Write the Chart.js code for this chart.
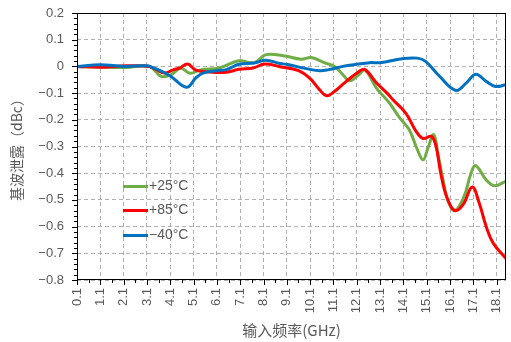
<!DOCTYPE html>
<html>
<head>
<meta charset="utf-8">
<script src="https://cdn.jsdelivr.net/npm/chart.js@4.4.0/dist/chart.umd.min.js"></script>
<style>
  html, body { margin: 0; padding: 0; background: #fff; }
  #wrap { width: 511px; height: 342px; }
</style>
</head>
<body>
<div id="wrap"><canvas id="myChart" width="511" height="342"></canvas></div>
<script>
// tick labels
const xTicks = [0.1, 1.1, 2.1, 3.1, 4.1, 5.1, 6.1, 7.1, 8.1, 9.1, 10.1, 11.1, 12.1, 13.1, 14.1, 15.1, 16.1, 17.1, 18.1];
const yTicks = [0.2, 0.1, 0, -0.1, -0.2, -0.3, -0.4, -0.5, -0.6, -0.7, -0.8];

// +25°C
const freq25 = [0.1, 1.2, 2.2, 3.2, 3.7, 4.1, 4.55, 4.95, 5.4, 6.2, 7.05, 7.7, 8.2, 9.0, 9.7, 10.15, 10.7, 11.15, 11.5, 11.8, 12.2, 12.45, 12.95, 13.5, 13.95, 14.35, 14.7, 14.95, 15.15, 15.4, 15.6, 15.8, 16.0, 16.3, 16.7, 17.0, 17.2, 17.65, 18.0, 18.5];
const val25 = [0, -0.003, -0.004, 0, -0.037, -0.033, -0.007, -0.026, -0.013, -0.006, 0.021, 0.014, 0.044, 0.039, 0.027, 0.033, 0.014, 0.0, -0.031, -0.054, -0.03, -0.013, -0.082, -0.137, -0.194, -0.237, -0.312, -0.35, -0.306, -0.256, -0.337, -0.425, -0.5, -0.54, -0.487, -0.40, -0.372, -0.425, -0.447, -0.43];

// +85°C
const freq85 = [0.1, 1.2, 2.2, 3.2, 3.5, 3.85, 4.25, 4.5, 4.85, 5.2, 5.8, 6.5, 7.05, 7.65, 8.15, 8.8, 9.6, 10.1, 10.5, 10.8, 11.1, 11.65, 12.2, 12.45, 12.95, 13.4, 13.65, 14.2, 14.65, 14.95, 15.3, 15.5, 15.7, 15.95, 16.3, 16.65, 17.05, 17.35, 17.65, 17.95, 18.5];
const val85 = [0, -0.003, 0.002, 0, -0.012, -0.025, -0.012, -0.006, 0.009, -0.014, -0.021, -0.022, -0.011, -0.006, 0.009, -0.001, -0.016, -0.046, -0.087, -0.11, -0.097, -0.056, -0.019, -0.012, -0.062, -0.1, -0.125, -0.175, -0.244, -0.27, -0.262, -0.30, -0.40, -0.487, -0.54, -0.519, -0.452, -0.512, -0.60, -0.662, -0.72];

// −40°C
const freq40 = [0.1, 1.1, 2.1, 3.1, 3.35, 3.6, 4.1, 4.8, 5.2, 5.5, 6.1, 6.5, 7.05, 7.7, 8.2, 8.8, 9.2, 9.8, 10.5, 10.9, 11.5, 12.1, 12.65, 13.1, 14.05, 14.7, 15.05, 15.65, 16.35, 16.8, 17.2, 17.65, 18.05, 18.5];
const val40 = [0, 0.006, 0, 0.002, -0.005, -0.013, -0.036, -0.078, -0.043, -0.025, -0.016, -0.012, 0.008, 0.013, 0.023, 0.011, 0.006, -0.006, -0.016, -0.012, 0, 0.008, 0.014, 0.014, 0.029, 0.031, 0.019, -0.037, -0.09, -0.062, -0.029, -0.056, -0.075, -0.069];

const seriesNames = ["+25°C", "+85°C", "−40°C"];
const seriesColors = ["#70ad47", "#ff0000", "#0070c0"];

const textGray = "#595959";
Chart.defaults.font.family = "'Liberation Sans', 'Noto Sans CJK SC', sans-serif";

// helper to pair x and y arrays
function toPoints(xs, ys) {
  return xs.map((x, i) => ({ x: x, y: ys[i] }));
}

// draws the black frame plus major/minor tick marks
const frameTicks = {
  id: "frameTicks",
  afterDraw(chart) {
    const { ctx, chartArea: a, scales: { x, y } } = chart;
    ctx.save();
    ctx.strokeStyle = "#000";
    ctx.lineWidth = 1;
    ctx.strokeRect(a.left + 0.5, a.top + 0.5, a.right - a.left - 1, a.bottom - a.top - 1);
    ctx.beginPath();
    xTicks.forEach((v) => {
      const px = Math.round(x.getPixelForValue(v)) + 0.5;
      ctx.moveTo(px, a.bottom);
      ctx.lineTo(px, a.bottom + 5);
      if (v + 0.5 < x.max) {
        const pm = Math.round(x.getPixelForValue(v + 0.5)) + 0.5;
        ctx.moveTo(pm, a.bottom);
        ctx.lineTo(pm, a.bottom + 3);
      }
    });
    for (let i = 0; i <= 50; i++) {
      const py = Math.round(y.getPixelForValue(y.max - i * 0.02)) + 0.5;
      const len = i % 5 === 0 ? 5 : 3;
      ctx.moveTo(a.left - len, py);
      ctx.lineTo(a.left, py);
    }
    ctx.stroke();
    ctx.restore();
  }
};

// legend sitting inside the plot area
const insideLegend = {
  id: "insideLegend",
  afterDraw(chart) {
    const { ctx, chartArea: a } = chart;
    ctx.save();
    ctx.font = "14px 'Liberation Sans', sans-serif";
    ctx.fillStyle = textGray;
    ctx.textBaseline = "middle";
    chart.data.datasets.forEach((ds, i) => {
      const yy = Math.round(a.top + 173 + i * 24.3) + 0.5;
      const x0 = a.left + 46;
      ctx.strokeStyle = ds.borderColor;
      ctx.lineWidth = 3;
      ctx.beginPath();
      ctx.moveTo(x0, yy);
      ctx.lineTo(x0 + 25, yy);
      ctx.stroke();
      ctx.fillText(ds.label, x0 + 26, yy);
    });
    ctx.restore();
  }
};

const ctx = document.getElementById("myChart");

new Chart(ctx, {
  type: "line",
  data: {
    datasets: [
      { label: seriesNames[0], data: toPoints(freq25, val25), borderColor: seriesColors[0], order: 3 },
      { label: seriesNames[1], data: toPoints(freq85, val85), borderColor: seriesColors[1], order: 2 },
      { label: seriesNames[2], data: toPoints(freq40, val40), borderColor: seriesColors[2], order: 1 },
    ],
  },
  options: {
    responsive: false,
    animation: false,
    layout: { padding: { top: 13, right: 5, left: 0, bottom: 0 } },
    elements: {
      line: { borderWidth: 3, tension: 0.4, fill: false },
      point: { radius: 0 },
    },
    plugins: {
      legend: { display: false },
      tooltip: { enabled: false },
    },
    scales: {
      x: {
        type: "linear",
        min: 0.1,
        max: 18.5,
        afterBuildTicks: (scale) => {
          scale.ticks = xTicks.map((v) => ({ value: v }));
        },
        afterFit: (scale) => {
          scale.height = 62;
          scale.paddingLeft = 0;
          scale.paddingRight = 0;
        },
        ticks: {
          autoSkip: false,
          minRotation: 90,
          maxRotation: 90,
          padding: 8,
          color: textGray,
          font: { size: 13 },
          callback: (v) => Number(v).toFixed(1),
        },
        grid: { color: "#b0b0b0", drawTicks: false },
        border: { display: false, dash: [4, 3] },
        title: {
          display: true,
          text: "输入频率(GHz)",
          color: textGray,
          font: { size: 15, family: "'Noto Sans CJK SC', sans-serif" },
          padding: { top: 0, bottom: 3 },
        },
      },
      y: {
        min: -0.8,
        max: 0.2,
        afterBuildTicks: (scale) => {
          scale.ticks = yTicks.map((v) => ({ value: v }));
        },
        afterFit: (scale) => {
          scale.width = 77;
          scale.paddingTop = 0;
          scale.paddingBottom = 0;
        },
        ticks: {
          padding: 13,
          color: textGray,
          font: { size: 13 },
          callback: (v) => {
            if (Math.abs(v) < 1e-9) return "0";
            return (v < 0 ? "−" : "") + Math.abs(v).toFixed(1);
          },
        },
        grid: { color: "#b0b0b0", drawTicks: false },
        border: { display: false, dash: [4, 3] },
        title: {
          display: true,
          text: "基波泄露（dBc）",
          color: textGray,
          font: { size: 14, family: "'Noto Sans CJK SC', sans-serif" },
          padding: { top: 8, bottom: 0 },
        },
      },
    },
  },
  plugins: [frameTicks, insideLegend],
});
</script>
</body>
</html>
